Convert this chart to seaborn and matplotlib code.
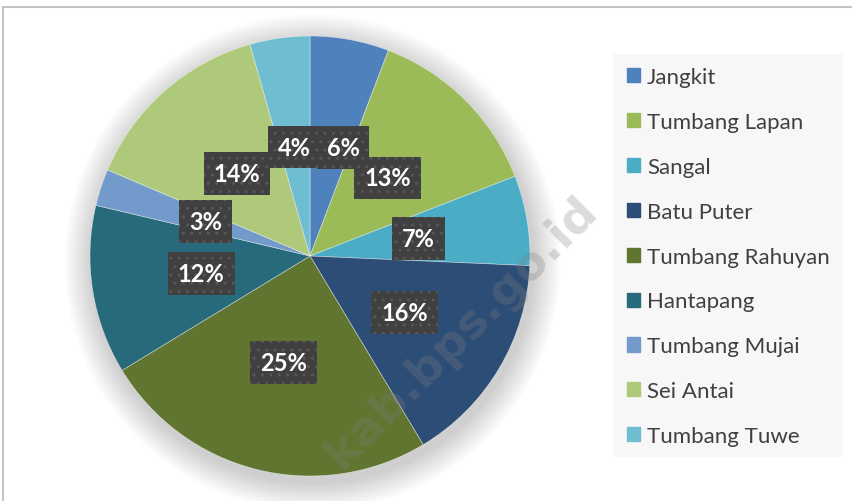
import matplotlib.pyplot as plt
import matplotlib.patches as mpatches
import numpy as np
import seaborn as sns

# data (percent of total)
kecamatan = ['Jangkit', 'Tumbang Lapan', 'Sangal', 'Batu Puter', 'Tumbang Rahuyan',
             'Hantapang', 'Tumbang Mujai', 'Sei Antai', 'Tumbang Tuwe']
share = [5.8, 13.3, 6.6, 15.7, 24.9, 12.4, 2.7, 14.2, 4.4]
warna = ['#4F81BD', '#9BBB59', '#4BACC6', '#2C4D75', '#5F7530',
         '#276A7C', '#729ACA', '#AFC97A', '#6FBDD1']

sns.set_theme(style='white')
plt.rcParams['font.family'] = ['Lato', 'DejaVu Sans']
palette = sns.color_palette(warna)

W, H = 853, 502
fig = plt.figure(figsize=(W / 100, H / 100), dpi=100)

# outer chart frame
fig.patches.append(mpatches.Rectangle((3 / W, -0.1), 1.2, (H - 8) / H + 0.1,
                                      transform=fig.transFigure, fill=False,
                                      ec='#c4c4c4', lw=1.5))
# legend background
fig.patches.append(mpatches.Rectangle((613 / W, 1 - 458 / H), 230 / W, 403 / H,
                                      transform=fig.transFigure, fc='#f7f7f7',
                                      ec='none', zorder=0))

ax = fig.add_axes([90 / W, 25 / H, 440 / W, 440 / H])

# soft shadow around the pie
for i in range(16):
    r = 1.0 + 0.008 * (i + 1)
    ax.add_patch(mpatches.Circle((0.012, -0.03), r, color='black', alpha=0.012,
                                 lw=0, zorder=0, clip_on=False))

wedges, texts, autotexts = ax.pie(
    share, colors=palette, startangle=90, counterclock=False,
    autopct='%1.0f%%', pctdistance=0.5, radius=1.0,
    wedgeprops=dict(edgecolor=(1, 1, 1, 0.5), linewidth=0.5))

for t in autotexts:
    t.set_color('white')
    t.set_fontsize(17)
    t.set_fontweight('bold')
    t.set_bbox(dict(boxstyle='square,pad=0.42', fc='#404040', ec='#575757',
                    lw=0, hatch='..'))
# nudge the 6% label to the right like the reference does
x6, y6 = autotexts[0].get_position()
autotexts[0].set_position((x6 + 0.06, y6))

ax.set_xlim(-1, 1)
ax.set_ylim(-1, 1)
ax.set_aspect('equal')
ax.axis('off')

# watermark
fig.text(462 / W, 1 - 333 / H, 'kab.bps.go.id', rotation=45, ha='center', va='center',
         fontsize=34, fontweight='bold', color='#808080', alpha=0.28,
         family=['DejaVu Sans'])

handles = [mpatches.Patch(color=c, label=k) for c, k in zip(warna, kecamatan)]
leg = fig.legend(handles=handles, loc='upper left',
                 bbox_to_anchor=(627 / W, 1 - 68 / H),
                 frameon=False, fontsize=16, labelspacing=1.12,
                 handlelength=0.6, handleheight=0.6, handletextpad=0.3,
                 borderpad=0, borderaxespad=0)
for t in leg.get_texts():
    t.set_color('#404040')

fig.savefig('out.png', dpi=100)
